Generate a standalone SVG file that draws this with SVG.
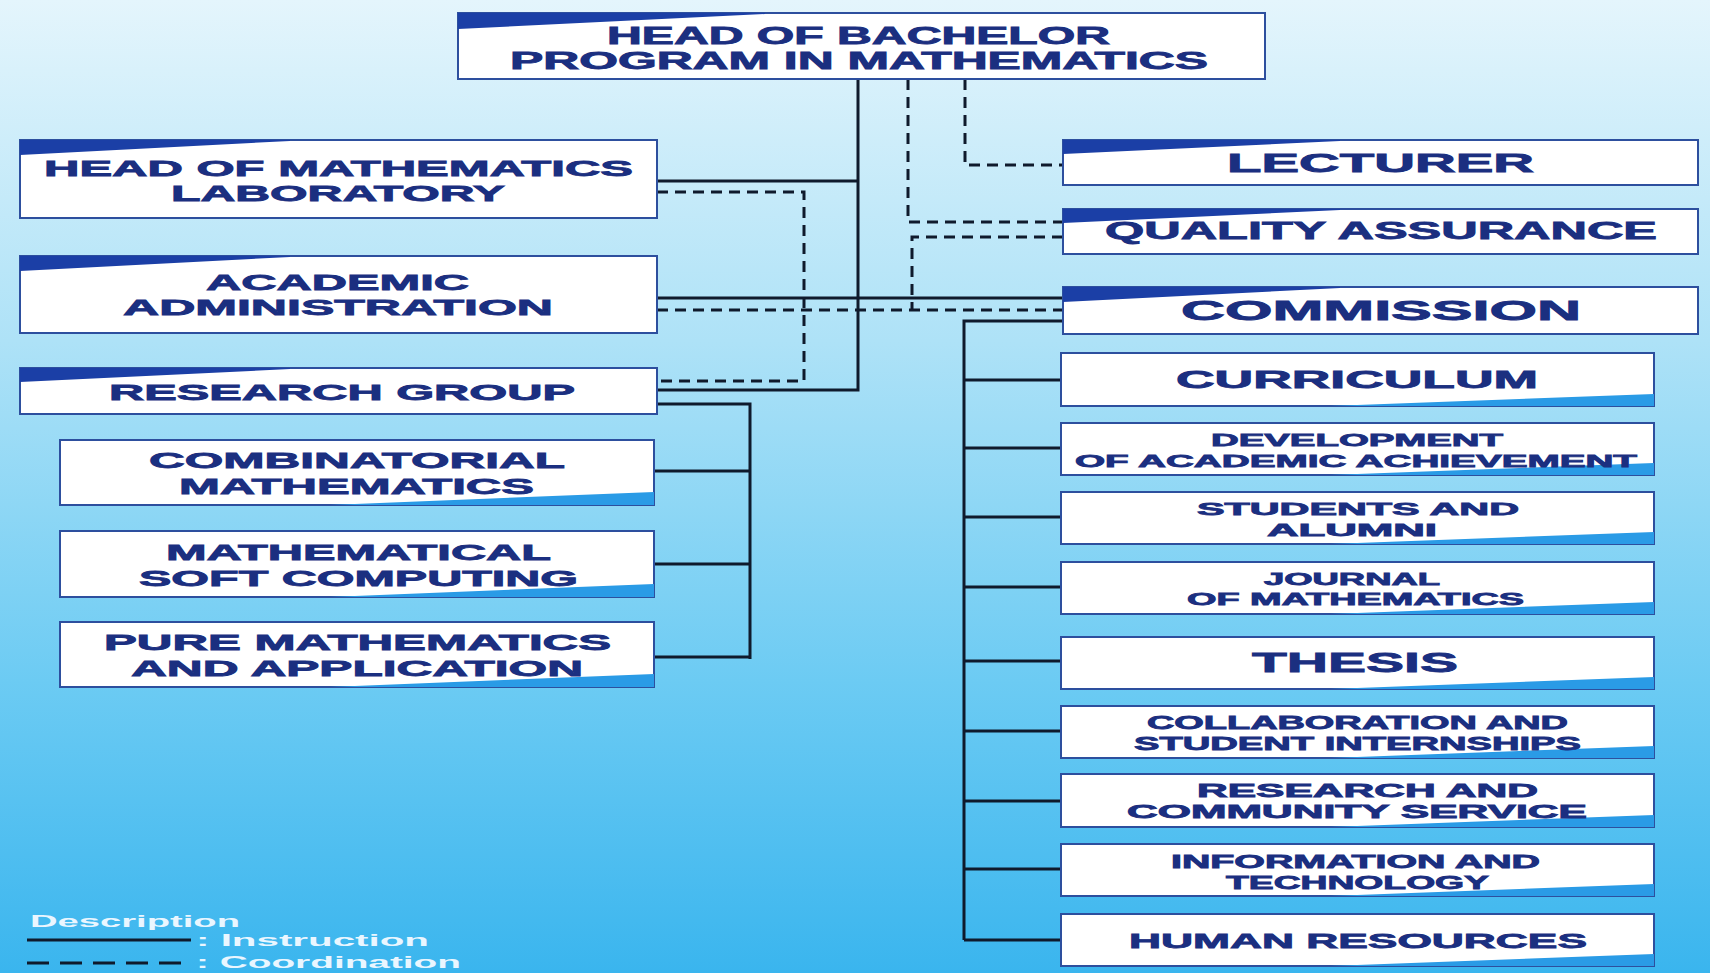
<svg xmlns="http://www.w3.org/2000/svg" width="1710" height="973" viewBox="0 0 1710 973">
<defs>
<linearGradient id="bg" x1="0" y1="0" x2="0" y2="1">
<stop offset="0" stop-color="#e4f5fc"/>
<stop offset="0.35" stop-color="#aee2f7"/>
<stop offset="0.7" stop-color="#6ccbf3"/>
<stop offset="1" stop-color="#3ab5ee"/>
</linearGradient>
<style>
.box{fill:#ffffff;stroke:#2d4f9e;stroke-width:2}
.tri{fill:#1b3fa6}
.tri2{fill:#2a9be6}
.t{font-family:"Liberation Sans",Arial,sans-serif;font-weight:bold;fill:#1b2f80;stroke:#1b2f80;stroke-width:0.8}
.lg{font-family:"Liberation Sans",Arial,sans-serif;font-weight:bold;fill:#eaf6ff;font-size:16px}
.solid{stroke:#0f1a2c;stroke-width:3;fill:none}
.dash{stroke:#0f1a2c;stroke-width:3;fill:none;stroke-dasharray:11 7}
</style>
</defs>
<rect x="0" y="0" width="1710" height="973" fill="url(#bg)"/>

<g id="connectors">
<path class="solid" d="M858 79 V390 H657"/>
<path class="solid" d="M657 181 H858"/>
<path class="solid" d="M657 298 H1063"/>
<path class="solid" d="M657 404 H750 V659"/>
<path class="solid" d="M654 471 H750"/>
<path class="solid" d="M654 564 H750"/>
<path class="solid" d="M654 657 H750"/>
<path class="solid" d="M1063 321 H964 V940"/>
<path class="solid" d="M964 380 H1061"/>
<path class="solid" d="M964 448 H1061"/>
<path class="solid" d="M964 517 H1061"/>
<path class="solid" d="M964 587 H1061"/>
<path class="solid" d="M964 661 H1061"/>
<path class="solid" d="M964 731 H1061"/>
<path class="solid" d="M964 801 H1061"/>
<path class="solid" d="M964 869 H1061"/>
<path class="solid" d="M964 940 H1061"/>
<path class="dash" d="M908 79 V222 H1063"/>
<path class="dash" d="M965 79 V165 H1063"/>
<path class="dash" d="M1063 237 H912 V310"/>
<path class="dash" d="M657 310 H1063"/>
<path class="dash" d="M657 192 H804 V381 H657"/>
</g>

<g id="head">
<rect class="box" x="458" y="13" width="807" height="66"/>
<polygon class="tri" points="458,13 765,13 765,14 458,29"/>
<text class="t" font-size="23" x="607" y="44" textLength="503" lengthAdjust="spacingAndGlyphs">HEAD OF BACHELOR</text>
<text class="t" font-size="23" x="510" y="69" textLength="698" lengthAdjust="spacingAndGlyphs">PROGRAM IN MATHEMATICS</text>
</g>

<g id="head-lab">
<rect class="box" x="20" y="140" width="637" height="78"/>
<polygon class="tri" points="20,140 290,140 290,141 20,155"/>
<text class="t" font-size="22" x="44" y="176" textLength="589" lengthAdjust="spacingAndGlyphs">HEAD OF MATHEMATICS</text>
<text class="t" font-size="22" x="171" y="201" textLength="334" lengthAdjust="spacingAndGlyphs">LABORATORY</text>
</g>

<g id="academic-admin">
<rect class="box" x="20" y="256" width="637" height="77"/>
<polygon class="tri" points="20,256 290,256 290,257 20,271"/>
<text class="t" font-size="22" x="206" y="290" textLength="263" lengthAdjust="spacingAndGlyphs">ACADEMIC</text>
<text class="t" font-size="22" x="123" y="315" textLength="430" lengthAdjust="spacingAndGlyphs">ADMINISTRATION</text>
</g>

<g id="research-group">
<rect class="box" x="20" y="368" width="637" height="46"/>
<polygon class="tri" points="20,368 290,368 290,369 20,382"/>
<text class="t" font-size="22" x="109" y="400" textLength="466" lengthAdjust="spacingAndGlyphs">RESEARCH GROUP</text>
</g>

<g id="combinatorial">
<rect class="box" x="60" y="440" width="594" height="65"/>
<polygon class="tri2" points="654,505 330,505 654,492"/>
<text class="t" font-size="22" x="149" y="468" textLength="416" lengthAdjust="spacingAndGlyphs">COMBINATORIAL</text>
<text class="t" font-size="22" x="179" y="494" textLength="355" lengthAdjust="spacingAndGlyphs">MATHEMATICS</text>
</g>

<g id="soft-computing">
<rect class="box" x="60" y="531" width="594" height="66"/>
<polygon class="tri2" points="654,597 330,597 654,584"/>
<text class="t" font-size="22" x="166" y="560" textLength="385" lengthAdjust="spacingAndGlyphs">MATHEMATICAL</text>
<text class="t" font-size="22" x="139" y="586" textLength="439" lengthAdjust="spacingAndGlyphs">SOFT COMPUTING</text>
</g>

<g id="pure-math">
<rect class="box" x="60" y="622" width="594" height="65"/>
<polygon class="tri2" points="654,687 330,687 654,674"/>
<text class="t" font-size="22" x="104" y="650" textLength="507" lengthAdjust="spacingAndGlyphs">PURE MATHEMATICS</text>
<text class="t" font-size="22" x="131" y="676" textLength="452" lengthAdjust="spacingAndGlyphs">AND APPLICATION</text>
</g>

<g id="lecturer">
<rect class="box" x="1063" y="140" width="635" height="45"/>
<polygon class="tri" points="1063,140 1340,140 1340,141 1063,154"/>
<text class="t" font-size="26" x="1227" y="172" textLength="307" lengthAdjust="spacingAndGlyphs">LECTURER</text>
</g>

<g id="quality-assurance">
<rect class="box" x="1063" y="209" width="635" height="45"/>
<polygon class="tri" points="1063,209 1340,209 1340,210 1063,223"/>
<text class="t" font-size="24" x="1105" y="239" textLength="552" lengthAdjust="spacingAndGlyphs">QUALITY ASSURANCE</text>
</g>

<g id="commission">
<rect class="box" x="1063" y="287" width="635" height="47"/>
<polygon class="tri" points="1063,287 1340,287 1340,288 1063,302"/>
<text class="t" font-size="27" x="1181" y="320" textLength="400" lengthAdjust="spacingAndGlyphs">COMMISSION</text>
</g>

<g id="curriculum">
<rect class="box" x="1061" y="353" width="593" height="53"/>
<polygon class="tri2" points="1654,406 1330,406 1654,394"/>
<text class="t" font-size="24" x="1176" y="388" textLength="362" lengthAdjust="spacingAndGlyphs">CURRICULUM</text>
</g>

<g id="development">
<rect class="box" x="1061" y="423" width="593" height="52"/>
<polygon class="tri2" points="1654,475 1330,475 1654,463"/>
<text class="t" font-size="17" x="1211" y="446" textLength="292" lengthAdjust="spacingAndGlyphs">DEVELOPMENT</text>
<text class="t" font-size="17" x="1075" y="467" textLength="562" lengthAdjust="spacingAndGlyphs">OF ACADEMIC ACHIEVEMENT</text>
</g>

<g id="students">
<rect class="box" x="1061" y="492" width="593" height="52"/>
<polygon class="tri2" points="1654,544 1330,544 1654,532"/>
<text class="t" font-size="17" x="1197" y="515" textLength="322" lengthAdjust="spacingAndGlyphs">STUDENTS AND</text>
<text class="t" font-size="17" x="1267" y="536" textLength="170" lengthAdjust="spacingAndGlyphs">ALUMNI</text>
</g>

<g id="journal">
<rect class="box" x="1061" y="562" width="593" height="52"/>
<polygon class="tri2" points="1654,614 1330,614 1654,602"/>
<text class="t" font-size="17" x="1264" y="585" textLength="176" lengthAdjust="spacingAndGlyphs">JOURNAL</text>
<text class="t" font-size="17" x="1187" y="605" textLength="337" lengthAdjust="spacingAndGlyphs">OF MATHEMATICS</text>
</g>

<g id="thesis">
<rect class="box" x="1061" y="637" width="593" height="52"/>
<polygon class="tri2" points="1654,689 1330,689 1654,677"/>
<text class="t" font-size="28" x="1252" y="672" textLength="206" lengthAdjust="spacingAndGlyphs">THESIS</text>
</g>

<g id="collaboration">
<rect class="box" x="1061" y="706" width="593" height="52"/>
<polygon class="tri2" points="1654,758 1330,758 1654,746"/>
<text class="t" font-size="18" x="1147" y="729" textLength="421" lengthAdjust="spacingAndGlyphs">COLLABORATION AND</text>
<text class="t" font-size="18" x="1134" y="750" textLength="447" lengthAdjust="spacingAndGlyphs">STUDENT INTERNSHIPS</text>
</g>

<g id="research-community">
<rect class="box" x="1061" y="774" width="593" height="53"/>
<polygon class="tri2" points="1654,827 1330,827 1654,815"/>
<text class="t" font-size="18" x="1197" y="797" textLength="341" lengthAdjust="spacingAndGlyphs">RESEARCH AND</text>
<text class="t" font-size="18" x="1127" y="818" textLength="460" lengthAdjust="spacingAndGlyphs">COMMUNITY SERVICE</text>
</g>

<g id="information">
<rect class="box" x="1061" y="844" width="593" height="52"/>
<polygon class="tri2" points="1654,896 1330,896 1654,884"/>
<text class="t" font-size="18" x="1171" y="868" textLength="369" lengthAdjust="spacingAndGlyphs">INFORMATION AND</text>
<text class="t" font-size="18" x="1226" y="889" textLength="263" lengthAdjust="spacingAndGlyphs">TECHNOLOGY</text>
</g>

<g id="human-resources">
<rect class="box" x="1061" y="914" width="593" height="52"/>
<polygon class="tri2" points="1654,966 1330,966 1654,954"/>
<text class="t" font-size="21" x="1129" y="948" textLength="458" lengthAdjust="spacingAndGlyphs">HUMAN RESOURCES</text>
</g>

<g id="legend">
<text class="lg" x="30" y="927" textLength="210" lengthAdjust="spacingAndGlyphs">Description</text>
<path class="solid" d="M27 940 H191"/>
<text class="lg" x="196" y="946" textLength="233" lengthAdjust="spacingAndGlyphs">: Instruction</text>
<path class="solid" d="M27 963 H191" stroke-dasharray="22 11"/>
<text class="lg" x="196" y="968" textLength="265" lengthAdjust="spacingAndGlyphs">: Coordination</text>
</g>
</svg>
